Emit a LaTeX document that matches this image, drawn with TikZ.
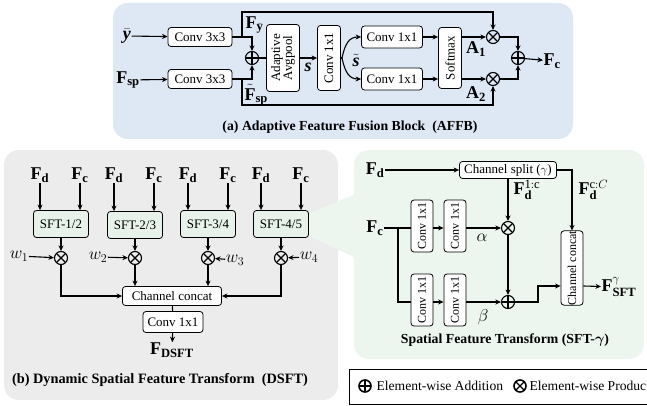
\documentclass[tikz,border=0pt]{standalone}
\usepackage{fontspec}
\setmainfont{Liberation Serif}
\usepackage{amsmath,bm}
\usetikzlibrary{arrows.meta}

\definecolor{affbblue}{RGB}{221,232,244}
\definecolor{dsftgray}{RGB}{236,236,236}
\definecolor{sftgreen}{RGB}{237,245,239}
\definecolor{sftfill}{RGB}{231,242,234}

\tikzset{
  blk/.style={draw, rounded corners=3pt, fill=white, line width=0.8pt, inner sep=0pt},
  sftblk/.style={blk, fill=sftfill, minimum width=55pt, minimum height=27pt},
  opnode/.style={circle, draw, line width=1.1pt, minimum size=13pt, inner sep=0pt},
  addop/.style={opnode, path picture={\draw[line width=1.1pt]
      (path picture bounding box.north) -- (path picture bounding box.south)
      (path picture bounding box.west) -- (path picture bounding box.east);}},
  mulop/.style={opnode, path picture={\draw[line width=1.1pt]
      (path picture bounding box.north west) -- (path picture bounding box.south east)
      (path picture bounding box.north east) -- (path picture bounding box.south west);}},
  var/.style={font=\fontsize{18}{20}\selectfont, inner sep=0pt},
  captxt/.style={font=\bfseries\fontsize{13.8}{16}\selectfont},
  smalltxt/.style={font=\fontsize{12}{14}\selectfont},
  keytxt/.style={anchor=west, inner sep=0pt, font=\fontsize{13.6}{15}\selectfont},
}
% bold italic letters for the pooled vectors
\newcommand{\bivec}[1]{\textbf{\textit{#1}}}

\begin{document}
\begin{tikzpicture}[x=1pt, y=-1pt, line width=1.1pt,
    font=\fontsize{13}{15}\selectfont, >={Stealth[length=5.5pt,width=5pt]}]
\useasboundingbox (0,0) rectangle (647,406);

% panels
\fill[affbblue, rounded corners=15pt] (113,3) rectangle (573,139);
\fill[dsftgray, rounded corners=15pt] (4,150) rectangle (338,400);
\fill[sftgreen, rounded corners=15pt] (354,150) rectangle (644,359);
\fill[sftgreen] (309,213) -- (356,194) -- (356,258) -- (309,236) -- cycle;

% (a) adaptive feature fusion
\node[var] (ybar) at (127,36) {$\bar{\bivec{y}}$};
\node[var] (fsp) at (128,80) {$\mathbf{F}_{\mathbf{sp}}$};
\node[blk, minimum width=64pt, minimum height=19pt] (cvy) at (200,37) {Conv 3x3};
\node[blk, minimum width=64pt, minimum height=19pt] (cvsp) at (200,79) {Conv 3x3};
\node[addop] (fuse) at (252,58) {};
\node[blk, minimum width=33pt, minimum height=67pt] (pool) at (283,58)
  {\rotatebox{90}{\begin{tabular}{@{}c@{}}Adaptive\\[-3pt]Avgpool\end{tabular}}};
\node[blk, minimum width=23pt, minimum height=65pt] (sq) at (329,58) {\rotatebox{90}{Conv 1x1}};
\node[blk, minimum width=61pt, minimum height=22pt] (exa) at (392,37) {Conv 1x1};
\node[blk, minimum width=61pt, minimum height=22pt] (exb) at (392,79) {Conv 1x1};
\node[blk, minimum width=23pt, minimum height=61pt] (soft) at (450,58) {\rotatebox{90}{Softmax}};
\node[mulop] (wa) at (493,37) {};
\node[mulop] (wb) at (493,79) {};
\node[addop] (sum) at (518,58) {};
\node[var, anchor=west] (fc) at (543,61) {$\mathbf{F}_{\mathbf{c}}$};
\coordinate (tapy) at (242,37);
\coordinate (topy) at (242,12);
\coordinate (tapsp) at (242,79);
\coordinate (botsp) at (242,105);
\coordinate (fork) at (342,58);

\node[var, anchor=west] at (245,25) {$\mathbf{F}_{\bar{\mathbf{y}}}$};
\node[var, anchor=west] at (244,95) {$\tilde{\mathbf{F}}_{\mathbf{sp}}$};
\node[var] at (308,67) {$\bivec{s}$};
\node[var] at (356,60) {$\tilde{\bivec{s}}$};
\node[var] at (476,49) {$\mathbf{A}_{\mathbf{1}}$};
\node[var] at (476,94) {$\mathbf{A}_{\mathbf{2}}$};

\draw[->] (ybar) -- (cvy);
\draw[->] (fsp) -- (cvsp);
\draw[->] (cvy.east) -| (fuse.north);
\draw[->] (cvsp.east) -| (fuse.south);
\draw[->] (tapy) -- (topy) -| (wa.north);
\draw[->] (tapsp) -- (botsp) -| (wb.south);
\draw (fuse) -- (pool);
\draw[->] (pool) -- (sq);
\draw (sq.east) -- (fork);
\draw[->] (fork) .. controls (345,44) and (349,37) .. (exa.west);
\draw[->] (fork) .. controls (345,72) and (349,79) .. (exb.west);
\draw[->] (exa.east) -- (exa.east -| soft.west);
\draw[->] (exb.east) -- (exb.east -| soft.west);
\draw[->] (wa -| soft.east) -- (wa);
\draw[->] (wb -| soft.east) -- (wb);
\draw[->] (wa) -| (sum.north);
\draw[->] (wb) -| (sum.south);
\draw[->] (sum) -- (fc);
\node[captxt] at (350,127) {(a) Adaptive Feature Fusion Block\ \ (AFFB)};

% (b) dynamic spatial feature transform
\node[var] (fd1) at (40,175) {$\mathbf{F}_{\mathbf{d}}$};
\node[var] (fc1) at (80,175) {$\mathbf{F}_{\mathbf{c}}$};
\node[var] (fd2) at (114,175) {$\mathbf{F}_{\mathbf{d}}$};
\node[var] (fc2) at (154,175) {$\mathbf{F}_{\mathbf{c}}$};
\node[var] (fd3) at (188,175) {$\mathbf{F}_{\mathbf{d}}$};
\node[var] (fc3) at (228,175) {$\mathbf{F}_{\mathbf{c}}$};
\node[var] (fd4) at (261,175) {$\mathbf{F}_{\mathbf{d}}$};
\node[var] (fc4) at (301,175) {$\mathbf{F}_{\mathbf{c}}$};
\node[sftblk] (sft1) at (61,224) {SFT-1/2};
\node[sftblk] (sft2) at (135,225) {SFT-2/3};
\node[sftblk] (sft3) at (208,224) {SFT-3/4};
\node[sftblk] (sft4) at (281,224) {SFT-4/5};
\node[mulop] (m1) at (61,258) {};
\node[mulop] (m2) at (135,258) {};
\node[mulop] (m3) at (208,258) {};
\node[mulop] (m4) at (281,258) {};
\node[var] (w1) at (19,256) {$w_1$};
\node[var] (w2) at (98,257) {$w_2$};
\node[var] (w3) at (235,260) {$w_3$};
\node[var] (w4) at (309,257) {$w_4$};
\node[blk, minimum width=99pt, minimum height=19pt] (cat) at (172,296) {Channel concat};
\node[blk, minimum width=60pt, minimum height=21pt] (cnv) at (173,322) {Conv 1x1};
\node[var] (fdsft) at (172,350) {$\mathbf{F}_{\mathbf{DSFT}}$};

\draw[->] (fd1) -- (fd1 |- sft1.north);
\draw[->] (fc1) -- (fc1 |- sft1.north);
\draw[->] (fd2) -- (fd2 |- sft2.north);
\draw[->] (fc2) -- (fc2 |- sft2.north);
\draw[->] (fd3) -- (fd3 |- sft3.north);
\draw[->] (fc3) -- (fc3 |- sft3.north);
\draw[->] (fd4) -- (fd4 |- sft4.north);
\draw[->] (fc4) -- (fc4 |- sft4.north);
\draw[->] (sft1) -- (m1);
\draw[->] (sft2) -- (m2);
\draw[->] (sft3) -- (m3);
\draw[->] (sft4) -- (m4);
\draw[->] (w1) -- (m1);
\draw[->] (w2) -- (m2);
\draw[->] (w3) -- (m3);
\draw[->] (w4) -- (m4);
\draw[->] (m1) |- (cat.west);
\draw[->] (m2) -- (m2 |- cat.north);
\draw[->] (m3) -- (m3 |- cat.north);
\draw[->] (m4) |- (cat.east);
\draw (cat) -- (cnv);
\draw[->] (cnv) -- (fdsft);
\node[captxt, font=\bfseries\fontsize{14.3}{16}\selectfont] at (160,380)
  {(b) Dynamic Spatial Feature Transform\ \ (DSFT)};

% SFT-gamma
\node[var] (fdS) at (375,170) {$\mathbf{F}_{\mathbf{d}}$};
\node[var] (fcS) at (375,228) {$\mathbf{F}_{\mathbf{c}}$};
\node[blk, minimum width=97pt, minimum height=17pt] (split) at (508,170) {Channel split ($\gamma$)};
\node[blk, smalltxt, minimum width=22pt, minimum height=52pt] (ca1) at (422,226) {\rotatebox{90}{Conv 1x1}};
\node[blk, smalltxt, minimum width=22pt, minimum height=52pt] (ca2) at (455,226) {\rotatebox{90}{Conv 1x1}};
\node[blk, smalltxt, minimum width=22pt, minimum height=52pt] (cb1) at (422,300) {\rotatebox{90}{Conv 1x1}};
\node[blk, smalltxt, minimum width=22pt, minimum height=52pt] (cb2) at (455,300) {\rotatebox{90}{Conv 1x1}};
\node[mulop] (mS) at (508,228) {};
\node[addop] (aS) at (508,302) {};
\node[blk, smalltxt, minimum width=22pt, minimum height=74pt] (cat2) at (572,268)
  {\rotatebox{90}{Channel concat}};
\node[var, anchor=west] (fsft) at (601,287) {$\mathbf{F}^{\gamma}_{\mathbf{SFT}}$};
\coordinate (tapc) at (398,228);
\coordinate (bend) at (538,302);

\node[var, anchor=west] at (513,190) {$\mathbf{F}_{\mathbf{d}}^{\mathrm{1:c}}$};
\node[var, anchor=west] at (578,190) {$\mathbf{F}_{\mathbf{d}}^{\mathrm{c}:C}$};
\node[var] at (482,238) {$\alpha$};
\node[var] at (483,317) {$\beta$};

\draw[->] (fdS) -- (split);
\draw[->] (split) -- (mS);
\draw[->] (split.east) -| (cat2.north);
\draw (fcS) -- (fcS -| ca1.west);
\draw (tapc) |- (cb1.west |- aS);
\draw[->] (ca1.east |- mS) -- (ca2.west |- mS);
\draw[->] (ca2.east |- mS) -- (mS);
\draw[->] (cb1.east |- aS) -- (cb2.west |- aS);
\draw[->] (cb2.east |- aS) -- (aS);
\draw[->] (mS) -- (aS);
\draw[->] (aS) -- (bend) |- ([yshift=-18pt]cat2.west);
\draw[->] ([yshift=-18pt]cat2.east) -- (fsft);
\node[captxt] at (505,340) {Spatial Feature Transform (SFT-$\bm{\gamma}$)};

% legend
\draw[line width=1pt, fill=white] (349,369) rectangle (660,404);
\node[addop, line width=1.6pt, minimum size=12pt] (addkey) at (365,386) {};
\node[keytxt] at (376,386) {Element-wise Addition};
\node[mulop, line width=1.6pt, minimum size=12pt] (mulkey) at (520,386) {};
\node[keytxt] at (529,386) {Element-wise Product};
\end{tikzpicture}
\end{document}
